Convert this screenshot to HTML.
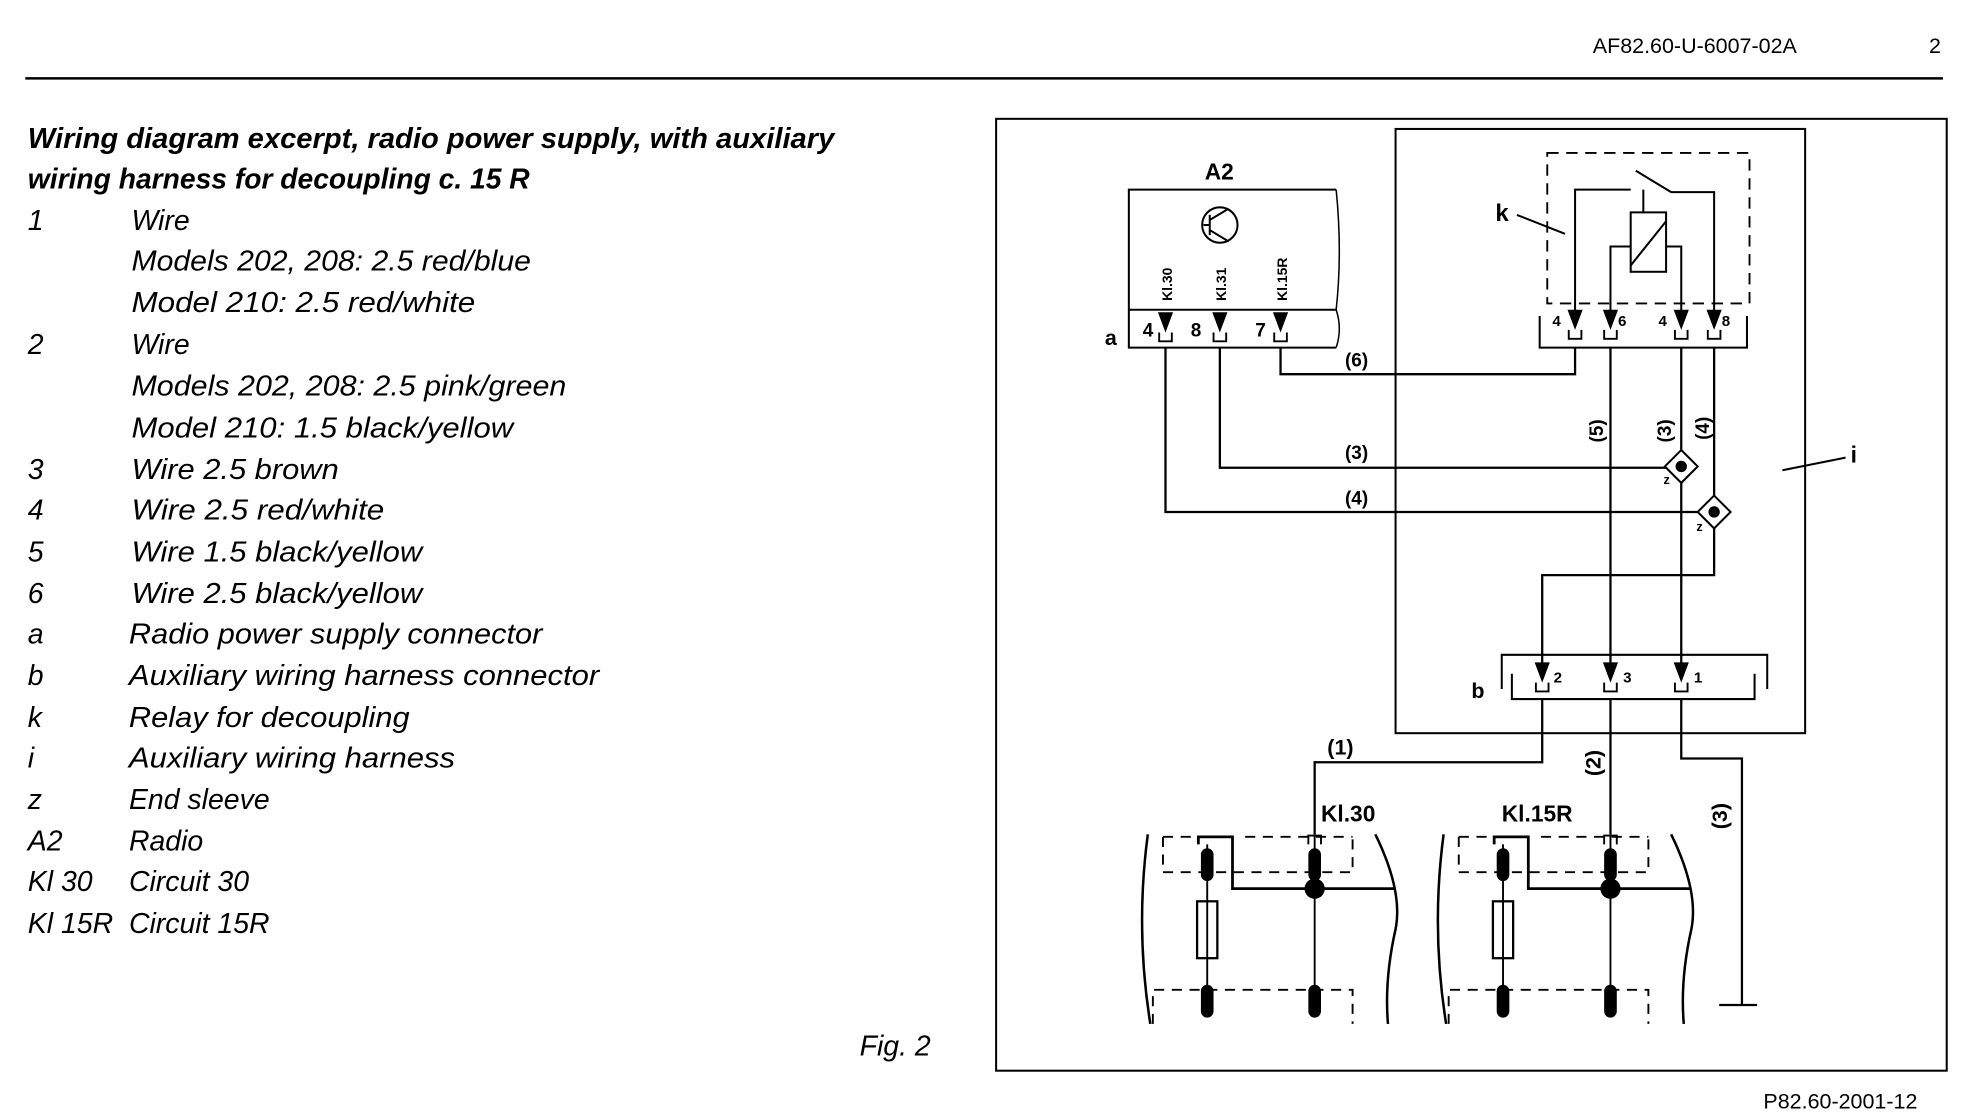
<!DOCTYPE html>
<html><head><meta charset="utf-8"><style>
html,body{margin:0;padding:0;background:#fff;}
svg{display:block}
.t{font-family:"Liberation Sans",sans-serif;font-style:italic;fill:#000}
.b{font-family:"Liberation Sans",sans-serif;font-weight:bold;fill:#000}
</style></head><body>
<svg width="1972" height="1120" viewBox="0 0 1560 886" xmlns="http://www.w3.org/2000/svg">
<defs>
<g id="pin"><path d="M-6,0 L6,0 L0,16 Z" fill="#000"/><path d="M-5,16 v7 h10 v-7" fill="none" stroke="#000" stroke-width="1.5"/></g>
<g id="fuse" fill="none" stroke="#000" stroke-width="2">
<path d="M908,660 Q898,735 910,810"/>
<path d="M1088,660 Q1110,705 1104,735 Q1095,775 1098,810"/>
<path d="M920,662 H945 M985,662 H1070 M920,662 V690 H1070 V662" stroke-dasharray="8,6" stroke-width="1.5"/>
<path d="M912,810 V783 H1070 V810" stroke-dasharray="8,6" stroke-width="1.5"/>
<path d="M948,668 V662 H975 V703 H1104" stroke-width="2.2"/>
<line x1="1040" y1="660" x2="1040" y2="800" stroke-width="1.5"/>
<line x1="955" y1="668" x2="955" y2="800" stroke-width="1.5"/>
<rect x="947" y="713" width="16" height="45" stroke-width="1.8"/>
<rect x="951" y="672" width="8" height="24" rx="4" fill="#000"/>
<rect x="951" y="780" width="8" height="24" rx="4" fill="#000"/>
<rect x="1036" y="672" width="8" height="24" rx="4" fill="#000"/>
<rect x="1036" y="780" width="8" height="24" rx="4" fill="#000"/>
<circle cx="1040" cy="703" r="8" fill="#000" stroke="none"/>
<path d="M1035,668 v-7 h10 v7" stroke-width="1.5"/>
</g>
</defs>
<!-- header -->
<text x="1260" y="42" font-size="17" font-family="Liberation Sans,sans-serif">AF82.60-U-6007-02A</text>
<text x="1526" y="42" font-size="17" font-family="Liberation Sans,sans-serif">2</text>
<line x1="20" y1="62" x2="1537" y2="62" stroke="#000" stroke-width="2"/>
<!-- left text -->
<g class="t" font-size="22.5">
<text x="22" y="117" font-weight="bold" textLength="638" lengthAdjust="spacingAndGlyphs">Wiring diagram excerpt, radio power supply, with auxiliary</text>
<text x="22" y="149" font-weight="bold" textLength="397" lengthAdjust="spacingAndGlyphs">wiring harness for decoupling c. 15 R</text>
<text x="22" y="182">1</text><text x="104" y="182">Wire</text>
<text x="104" y="214" textLength="316" lengthAdjust="spacingAndGlyphs">Models 202, 208: 2.5 red/blue</text>
<text x="104" y="247" textLength="272" lengthAdjust="spacingAndGlyphs">Model 210: 2.5 red/white</text>
<text x="22" y="280">2</text><text x="104" y="280">Wire</text>
<text x="104" y="313" textLength="344" lengthAdjust="spacingAndGlyphs">Models 202, 208: 2.5 pink/green</text>
<text x="104" y="346" textLength="302" lengthAdjust="spacingAndGlyphs">Model 210: 1.5 black/yellow</text>
<text x="22" y="379">3</text><text x="104" y="379" textLength="164" lengthAdjust="spacingAndGlyphs">Wire 2.5 brown</text>
<text x="22" y="411">4</text><text x="104" y="411" textLength="200" lengthAdjust="spacingAndGlyphs">Wire 2.5 red/white</text>
<text x="22" y="444">5</text><text x="104" y="444" textLength="230" lengthAdjust="spacingAndGlyphs">Wire 1.5 black/yellow</text>
<text x="22" y="477">6</text><text x="104" y="477" textLength="230" lengthAdjust="spacingAndGlyphs">Wire 2.5 black/yellow</text>
<text x="22" y="509">a</text><text x="102" y="509" textLength="327" lengthAdjust="spacingAndGlyphs">Radio power supply connector</text>
<text x="22" y="542">b</text><text x="102" y="542" textLength="372" lengthAdjust="spacingAndGlyphs">Auxiliary wiring harness connector</text>
<text x="22" y="575">k</text><text x="102" y="575" textLength="222" lengthAdjust="spacingAndGlyphs">Relay for decoupling</text>
<text x="22" y="607">i</text><text x="102" y="607" textLength="258" lengthAdjust="spacingAndGlyphs">Auxiliary wiring harness</text>
<text x="22" y="640">z</text><text x="102" y="640">End sleeve</text>
<text x="22" y="673">A2</text><text x="102" y="673">Radio</text>
<text x="22" y="705">Kl 30</text><text x="102" y="705">Circuit 30</text>
<text x="22" y="738">Kl 15R</text><text x="102" y="738">Circuit 15R</text>
<text x="680" y="835">Fig. 2</text>
</g>
<!-- diagram frame -->
<g fill="none" stroke="#000" stroke-width="1.6">
<rect x="788" y="94" width="752" height="753"/>
<rect x="1104" y="102" width="324" height="478"/>
<path d="M1057,150 H893 V275 H1057 M893,245 H1057"/>
<path d="M1057,150 Q1062,200 1057,245 Q1062,260 1057,275" stroke-width="1.2"/>
<circle cx="965" cy="178" r="14"/>
<path d="M957,170 V186 M957,178 H952 M957,174 L972,165 M957,182 L972,191"/>
<rect x="1224" y="121" width="160" height="119" stroke-dasharray="9,6" stroke-width="1.5"/>
<path d="M1218,250 V275 H1382 V250"/>
<path d="M1246,258 V150 H1290 M1294,135 L1322,152 H1356 V258"/>
<path d="M1300,150 V168"/>
<rect x="1290" y="168" width="28" height="47"/>
<path d="M1290,210 L1318,175"/>
<path d="M1274,258 V195 H1290 M1318,195 H1330 V258"/>
<path d="M1238,185 L1200,170 M1410,372 L1460,362"/>
<path d="M1188,545 V518 H1398 V545 M1196,533 V553 H1388 V533"/>
<g stroke-width="1.8">
<path d="M1013,275 V296 H1246 V275"/>
<path d="M965,275 V370 H1322"/>
<path d="M922,275 V405 H1348"/>
<path d="M1274,275 V530"/>
<path d="M1330,275 V530"/>
<path d="M1356,275 V455 H1220 V530"/>
<path d="M1220,553 V603 H1040 V660"/>
<path d="M1274,553 V660"/>
<path d="M1330,553 V600 H1378 V795 M1360,795 H1390"/>
</g>
<path d="M1330,356 L1343,369 L1330,382 L1317,369 Z" fill="#fff"/>
<path d="M1356,392 L1369,405 L1356,418 L1343,405 Z" fill="#fff"/>
</g>
<circle cx="1330" cy="369" r="4.5"/><circle cx="1356" cy="405" r="4.5"/>
<use href="#pin" x="922" y="247"/><use href="#pin" x="965" y="247"/><use href="#pin" x="1013" y="247"/>
<use href="#pin" x="1246" y="245"/><use href="#pin" x="1274" y="245"/><use href="#pin" x="1330" y="245"/><use href="#pin" x="1356" y="245"/>
<use href="#pin" x="1220" y="524"/><use href="#pin" x="1274" y="524"/><use href="#pin" x="1330" y="524"/>
<use href="#fuse"/>
<use href="#fuse" transform="translate(234,0)"/>
<g class="b" font-size="15">
<text x="953" y="142" font-size="18">A2</text>
<text x="904" y="266">4</text><text x="942" y="266">8</text><text x="993" y="266">7</text>
<text x="874" y="273" font-size="17">a</text>
<text x="1228" y="258" font-size="12">4</text><text x="1280" y="258" font-size="12">6</text><text x="1312" y="258" font-size="12">4</text><text x="1362" y="258" font-size="12">8</text>
<text x="1183" y="175" font-size="19">k</text>
<text x="1464" y="366" font-size="18">i</text>
<text x="1164" y="552" font-size="17">b</text>
<text x="1229" y="540" font-size="12">2</text><text x="1284" y="540" font-size="12">3</text><text x="1340" y="540" font-size="12">1</text>
<text x="1064" y="290">(6)</text><text x="1064" y="363">(3)</text><text x="1064" y="399">(4)</text>
<text x="1050" y="597" font-size="17">(1)</text>
<text x="1045" y="650" font-size="18">Kl.30</text><text x="1188" y="650" font-size="18">Kl.15R</text>
<text transform="translate(1268,350) rotate(-90)">(5)</text>
<text transform="translate(1322,350) rotate(-90)">(3)</text>
<text transform="translate(1352,348) rotate(-90)">(4)</text>
<text transform="translate(1266,614) rotate(-90)" font-size="17">(2)</text>
<text transform="translate(1366,656) rotate(-90)" font-size="17">(3)</text>
<text x="1316" y="383" font-size="10">z</text><text x="1342" y="420" font-size="10">z</text>
<text transform="translate(927,238) rotate(-90)" font-size="11">Kl.30</text>
<text transform="translate(970,238) rotate(-90)" font-size="11">Kl.31</text>
<text transform="translate(1018,238) rotate(-90)" font-size="11">Kl.15R</text>
</g>
<text x="1395" y="877" font-size="17" font-family="Liberation Sans,sans-serif">P82.60-2001-12</text>
</svg>
</body></html>
